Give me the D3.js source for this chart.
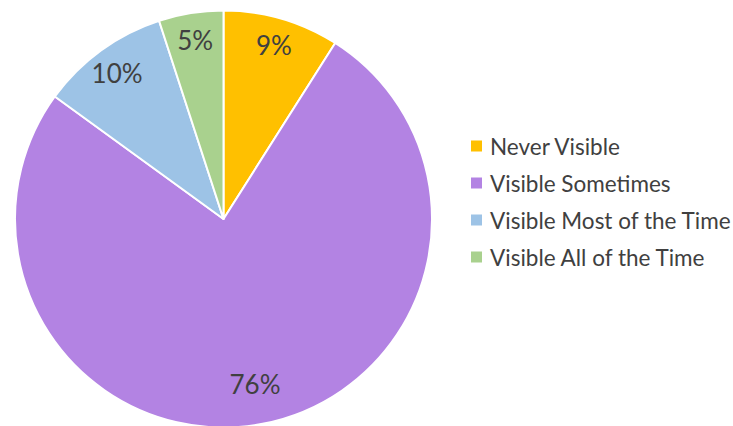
<!DOCTYPE html>
<html>
<head>
<meta charset="utf-8">
<script src="https://cdn.jsdelivr.net/npm/d3@7"></script>
<style>
  html, body { margin: 0; padding: 0; background: #fff; }
  svg { display: block; }
</style>
</head>
<body>
<svg id="chart" width="733" height="426"></svg>
<script>
// Visibility survey responses (percent of respondents)
const categories = ["Never Visible", "Visible Sometimes", "Visible Most of the Time", "Visible All of the Time"];
const values = [9, 76, 10, 5];
const colors = ["#FFC000", "#B383E3", "#9DC3E6", "#A9D18E"];

const svg = d3.select("#chart");
const cx = 223.5, cy = 219, radius = 208.5;
const fontFamily = "Lato, 'Open Sans', sans-serif";

const data = categories.map((c, i) => ({ name: c, value: values[i], color: colors[i] }));

const pie = d3.pie().value(d => d.value).sort(null);
const arc = d3.arc().innerRadius(0).outerRadius(radius);
const labelArc = d3.arc().innerRadius(181).outerRadius(181);

const g = svg.append("g").attr("transform", `translate(${cx},${cy})`);
const arcs = pie(data);

g.selectAll("path.slice")
  .data(arcs)
  .join("path")
  .attr("class", "slice")
  .attr("d", arc)
  .attr("fill", d => d.data.color)
  .attr("stroke", "#fff")
  .attr("stroke-width", 2)
  .attr("stroke-linejoin", "round");

// Percentage labels, pulled slightly inward on the large slice so it stays on the disc
g.selectAll("text.pct")
  .data(arcs)
  .join("text")
  .attr("class", "pct")
  .attr("transform", d => {
    const [x, y] = labelArc.centroid(d);
    const k = d.data.value > 50 ? 0.93 : 1;
    return `translate(${x * k},${y * k})`;
  })
  .attr("text-anchor", "middle")
  .attr("dominant-baseline", "central")
  .attr("font-family", fontFamily)
  .attr("font-size", 26)
  .attr("fill", "#404040")
  .text(d => d.data.value + "%");

// Legend
const legend = svg.append("g").attr("transform", "translate(471,146)");
const rowGap = 37;
const items = legend.selectAll("g.item")
  .data(data)
  .join("g")
  .attr("class", "item")
  .attr("transform", (d, i) => `translate(0,${i * rowGap})`);

items.append("rect")
  .attr("x", 0).attr("y", -5.5)
  .attr("width", 11).attr("height", 11)
  .attr("fill", d => d.color);

items.append("text")
  .attr("x", 19)
  .attr("y", 0)
  .attr("dominant-baseline", "central")
  .attr("font-family", fontFamily)
  .attr("font-size", 22.5)
  .attr("fill", "#404040")
  .text(d => d.name);
</script>
</body>
</html>
